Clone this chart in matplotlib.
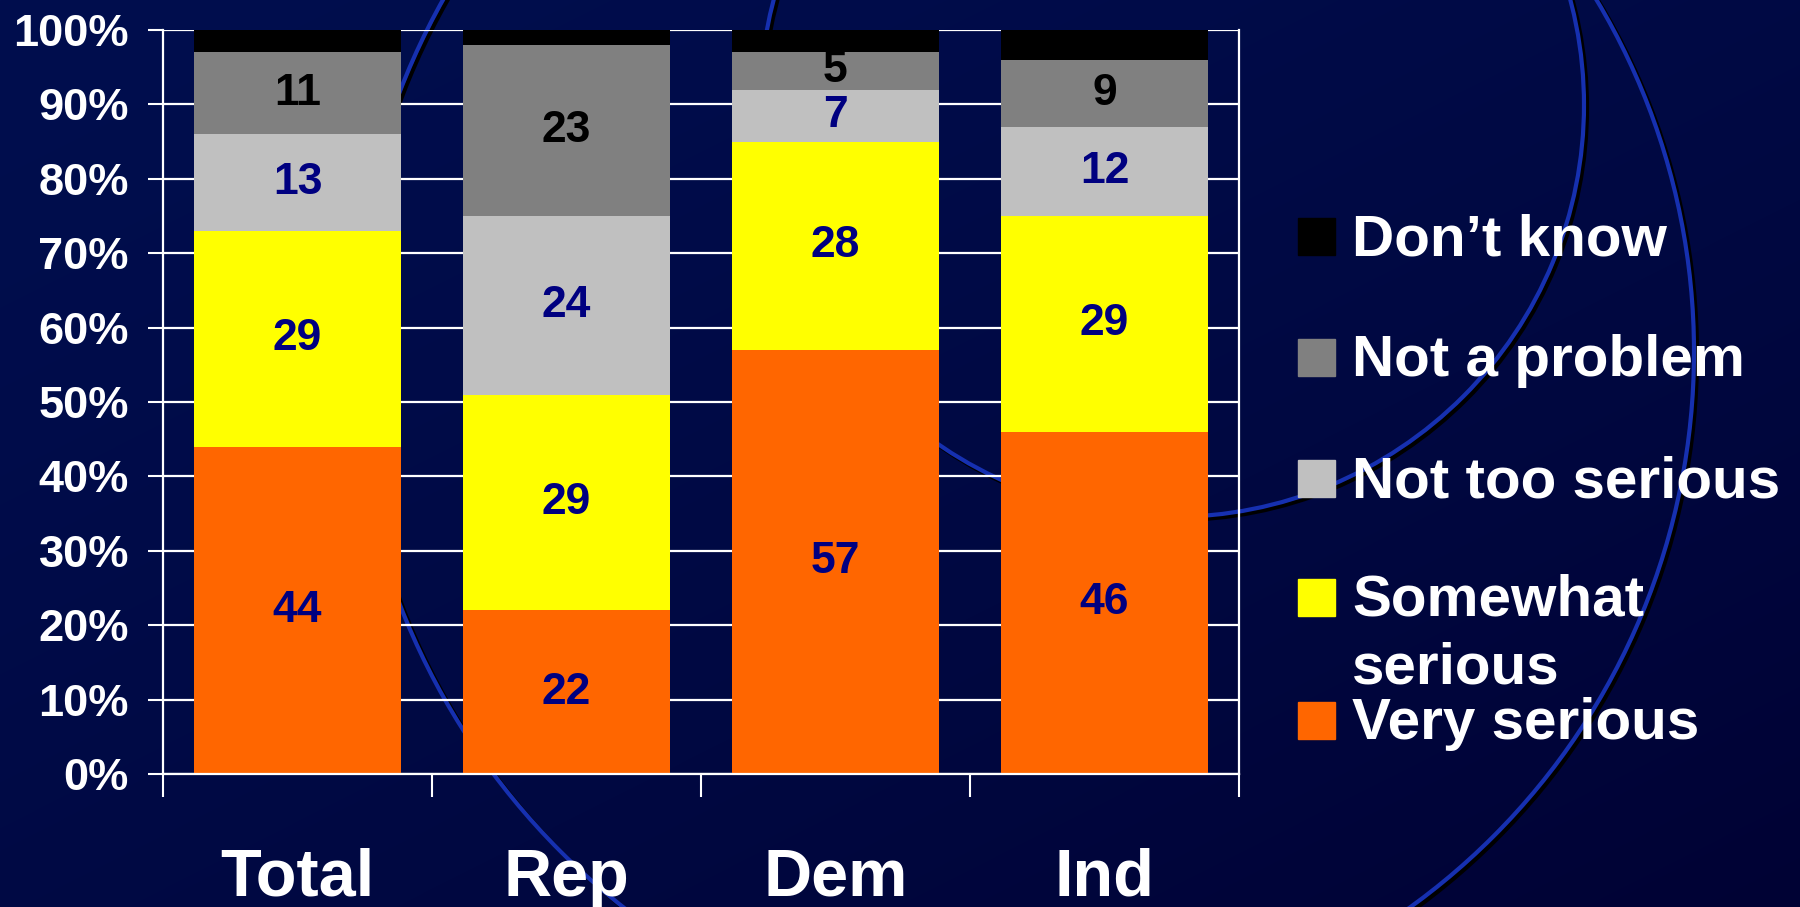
import numpy as np
import matplotlib
matplotlib.use("Agg")
import matplotlib.pyplot as plt
from matplotlib.patches import Arc, Rectangle

plt.rcParams["font.family"] = ["Liberation Sans", "DejaVu Sans"]
plt.rcParams["font.weight"] = "bold"

# data
groups = ["Total", "Rep", "Dem", "Ind"]
very_serious = [44, 22, 57, 46]
somewhat_serious = [29, 29, 28, 29]
not_too_serious = [13, 24, 7, 12]
not_a_problem = [11, 23, 5, 9]
dont_know = [3, 2, 3, 4]

series = [
    ("Very serious", very_serious, "#FF6600", "#000080"),
    ("Somewhat serious", somewhat_serious, "#FFFF00", "#000080"),
    ("Not too serious", not_too_serious, "#C0C0C0", "#000080"),
    ("Not a problem", not_a_problem, "#808080", "#000000"),
    ("Don\u2019t know", dont_know, "#000000", None),
]

W, H = 1800, 907
fig = plt.figure(figsize=(W / 100, H / 100), dpi=100)

# background: dark navy gradient with decorative rings
bg = fig.add_axes([0, 0, 1, 1])
bg.axis("off")
yy, xx = np.mgrid[0:H, 0:W]
t = np.clip((xx / W + yy / H) / 2, 0, 1) ** 1.4
top = np.array([0, 14, 78]) / 255
bot = np.array([0, 2, 52]) / 255
img = top[None, None, :] + (bot - top)[None, None, :] * t[..., None]
bg.imshow(img, extent=[0, W, H, 0], aspect="auto")
bg.set_xlim(0, W)
bg.set_ylim(H, 0)

ring_blue = "#1630b0"
# (cx, cy, r, theta1, theta2) in pixel coords
rings = [(1064, 348, 712, 90, 270), (1009, 352, 685, -90, 90), (1172, 105, 412, 0, 360)]
for cx, cy, r, t1, t2 in rings:
    bg.add_patch(Arc((cx + 3, cy + 3), 2 * r, 2 * r, theta1=t1, theta2=t2,
                     ec="black", lw=3))
    bg.add_patch(Arc((cx, cy), 2 * r, 2 * r, theta1=t1, theta2=t2,
                     ec=ring_blue, lw=3))

# chart
ax = fig.add_axes([163 / W, 1 - 774 / H, (1239 - 163) / W, 744 / H])
ax.patch.set_alpha(0)
x = np.arange(len(groups))
bottom = np.zeros(len(groups))
for name, vals, color, lab_color in series:
    bars = ax.bar(x, vals, 0.773, bottom=bottom, color=color, linewidth=0, zorder=2)
    if lab_color:
        ax.bar_label(bars, labels=[str(v) for v in vals], label_type="center",
                     color=lab_color, fontsize=32, fontweight="bold")
    bottom += np.array(vals)

ax.set_xlim(-0.5, 3.5)
ax.set_ylim(0, 100)
ax.set_yticks(range(0, 101, 10))
ax.set_yticklabels([f"{v}%" for v in range(0, 101, 10)])
ax.yaxis.grid(True, color="white", lw=1.6)
ax.set_axisbelow(True)

ax.set_xticks([-0.5, 0.5, 1.5, 2.5, 3.5])
ax.set_xticklabels([])
ax.set_xticks(x, minor=True)
ax.set_xticklabels(groups, minor=True)
ax.tick_params(axis="x", which="major", length=16.6, width=1.5, color="white")
ax.tick_params(axis="x", which="minor", length=0, pad=53, labelsize=48,
               labelcolor="white")
ax.tick_params(axis="y", length=10.8, width=1.5, color="white", pad=13.7,
               labelsize=32.5, labelcolor="white")

for side in ["left", "right", "bottom"]:
    ax.spines[side].set_color("white")
    ax.spines[side].set_linewidth(1.6)
ax.spines["top"].set_visible(False)

# legend, drawn in pixel coordinates on the background axes
legend_rows = [
    ("Don\u2019t know", "#000000", 255),
    ("Not a problem", "#808080", 376),
    ("Not too serious", "#C0C0C0", 497),
    ("Somewhat", "#FFFF00", 616),
    ("Very serious", "#FF6600", 739),
]
for label, color, base in legend_rows:
    bg.add_patch(Rectangle((1298, base - 37), 37, 37, color=color))
    bg.text(1352, base, label, color="white", fontsize=42, fontweight="bold",
            va="baseline", ha="left")
bg.text(1352, 683, "serious", color="white", fontsize=42, fontweight="bold",
        va="baseline", ha="left")

fig.savefig("out.png", dpi=100)
